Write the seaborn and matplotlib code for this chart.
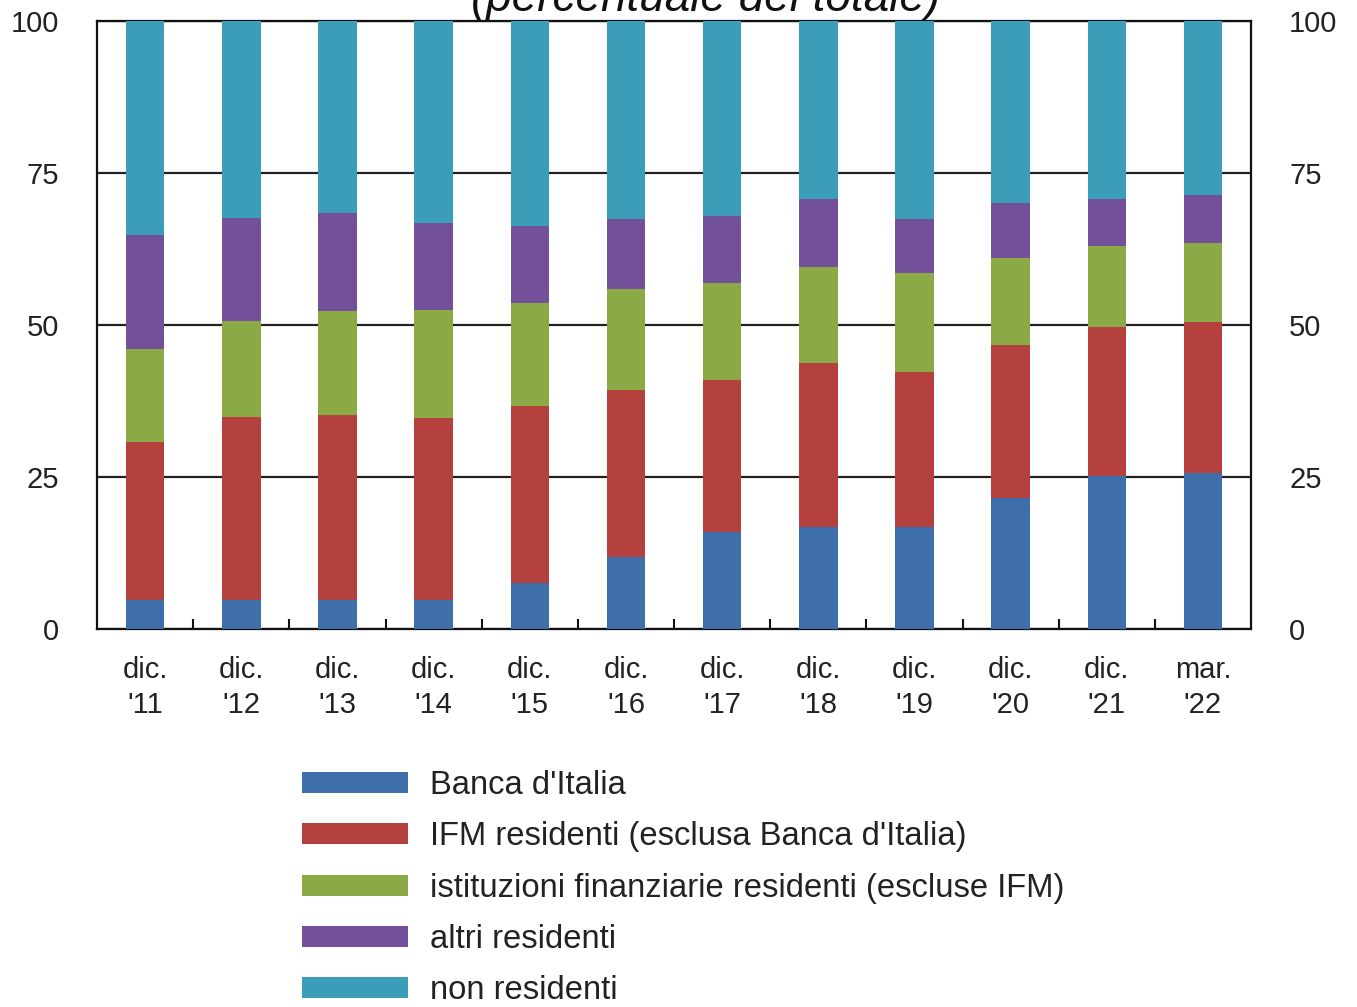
import numpy as np
import pandas as pd
import matplotlib
matplotlib.use("Agg")
import matplotlib.pyplot as plt
from matplotlib.patches import Patch
import seaborn as sns

periods = ["dic.\n'11", "dic.\n'12", "dic.\n'13", "dic.\n'14", "dic.\n'15", "dic.\n'16",
           "dic.\n'17", "dic.\n'18", "dic.\n'19", "dic.\n'20", "dic.\n'21", "mar.\n'22"]
banca_italia = [4.8, 4.8, 4.8, 4.8, 7.6, 11.9, 16.0, 16.7, 16.8, 21.6, 25.2, 25.7]
ifm_residenti = [26.0, 30.1, 30.4, 29.9, 29.0, 27.4, 25.0, 27.0, 25.5, 25.1, 24.5, 24.8]
ist_finanziarie = [15.3, 15.8, 17.1, 17.8, 17.0, 16.6, 15.9, 15.9, 16.3, 14.3, 13.3, 13.0]
altri_residenti = [18.7, 16.9, 16.2, 14.3, 12.7, 11.5, 11.1, 11.1, 8.9, 9.0, 7.7, 7.9]
non_residenti = [35.2, 32.4, 31.5, 33.2, 33.7, 32.6, 32.0, 29.3, 32.5, 30.0, 29.3, 28.6]

series_names = ["Banca d'Italia", "IFM residenti (esclusa Banca d'Italia)",
                "istituzioni finanziarie residenti (escluse IFM)", "altri residenti",
                "non residenti"]
series_values = [banca_italia, ifm_residenti, ist_finanziarie, altri_residenti, non_residenti]
colors = ["#3E6FAA", "#B5413E", "#8BAA45", "#72509A", "#3C9DB8"]
y_ticks = [0, 25, 50, 75, 100]
title = "(percentuale del totale)"

sns.set_style("white")
plt.rcParams["font.family"] = ["Liberation Sans", "DejaVu Sans"]

fig = plt.figure(figsize=(13.57, 10.07), dpi=100)
ax = fig.add_axes([0.0715, 0.3754, 0.8504, 0.6037])

cum = np.cumsum(np.array(series_values, dtype=float), axis=0)
for i in range(len(series_names) - 1, -1, -1):
    df = pd.DataFrame({"period": periods, "value": cum[i]})
    sns.barplot(data=df, x="period", y="value", order=periods, color=colors[i],
                saturation=1, width=0.4, errorbar=None, ax=ax, zorder=3,
                linewidth=0, edgecolor="none")

ax.set_xlim(-0.5, len(periods) - 0.5)
ax.set_ylim(0, 100)
ax.set_yticks(y_ticks)
ax.set_xlabel("")
ax.set_ylabel("")
ax.yaxis.grid(True, color="#222222", linewidth=1.6, zorder=0)
ax.set_axisbelow(True)
for s in ax.spines.values():
    s.set_visible(True)
    s.set_color("#111111")
    s.set_linewidth(1.6)

ax.tick_params(axis="y", which="both", left=False, right=False, labelleft=True,
               labelright=True, labelsize=21, pad=24, labelcolor="#222222")
ax.tick_params(axis="x", which="major", bottom=False, labelsize=21, pad=16,
               labelcolor="#222222")
for lab in ax.get_xticklabels():
    lab.set_linespacing(1.3)
ax.set_xticks(np.arange(0.5, len(periods) - 1, 1), minor=True)
ax.tick_params(axis="x", which="minor", bottom=True, direction="in", length=7,
               width=1.5, color="#111111")

fig.text(0.52, 0.989, title, ha="center", va="baseline", fontsize=33,
         style="italic", color="#111111")

handles = [Patch(facecolor=c, edgecolor="none") for c in colors]
ax.legend(handles, series_names, loc="upper left", bbox_to_anchor=(0.2225, 0.2353),
          bbox_transform=fig.transFigure, frameon=False, fontsize=23.6, borderpad=0,
          handlelength=3.23, handleheight=0.61, handletextpad=0.67, labelspacing=0.62,
          borderaxespad=0, labelcolor="#222222")

fig.savefig("out.png", dpi=100)
